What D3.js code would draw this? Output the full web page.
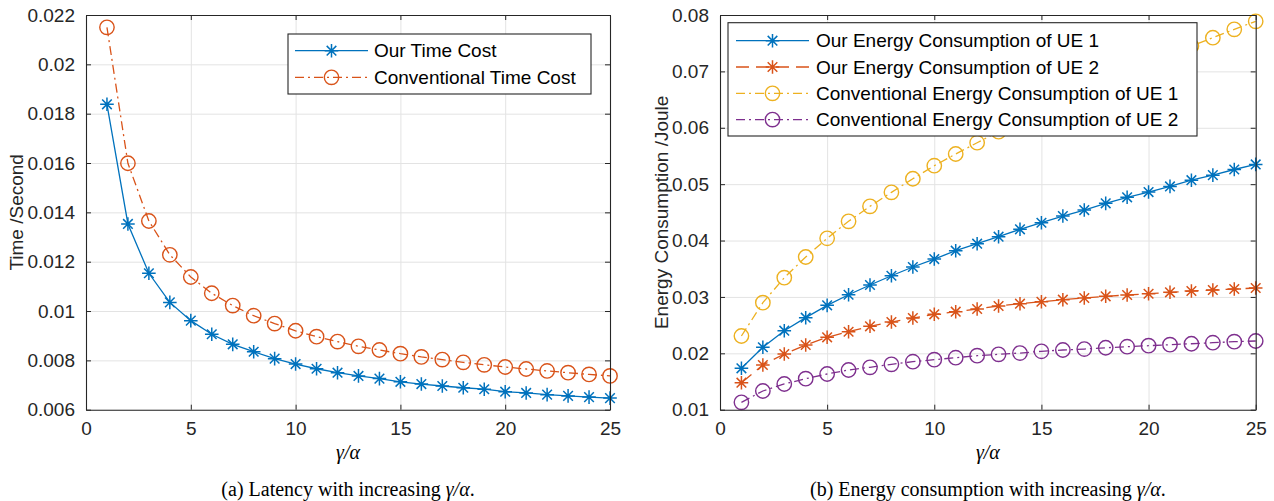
<!DOCTYPE html>
<html>
<head>
<meta charset="utf-8">
<script src="https://cdn.jsdelivr.net/npm/d3@7/dist/d3.min.js"></script>
<style>
  html, body { margin: 0; padding: 0; background: #fff; }
  svg { display: block; }
</style>
</head>
<body>
<svg id="chart" width="1274" height="501"></svg>
<script>
// ---------------- DATA ----------------
const ratio = d3.range(1, 26); // gamma/alpha = 1..25

const ourTimeCost = [0.01838, 0.01353, 0.01153, 0.01035, 0.00961, 0.00906, 0.00865, 0.00835, 0.00807, 0.00785,
  0.00766, 0.00750, 0.00737, 0.00726, 0.00713, 0.00704, 0.00696, 0.00689, 0.00683, 0.00673,
  0.00668, 0.00661, 0.00656, 0.00651, 0.00647];
const convTimeCost = [0.02150, 0.01599, 0.01365, 0.01228, 0.01138, 0.01072, 0.01022, 0.00981, 0.00949, 0.00920,
  0.00896, 0.00876, 0.00857, 0.00842, 0.00827, 0.00814, 0.00803, 0.00792, 0.00782, 0.00773,
  0.00765, 0.00757, 0.00750, 0.00743, 0.00737];

const ourEnergyUE1 = [0.01734, 0.02107, 0.02401, 0.02632, 0.02851, 0.03039, 0.03211, 0.03376, 0.03531, 0.03672,
  0.03820, 0.03944, 0.04068, 0.04199, 0.04316, 0.04435, 0.04541, 0.04660, 0.04767, 0.04860,
  0.04960, 0.05070, 0.05160, 0.05260, 0.05350];
const ourEnergyUE2 = [0.01479, 0.01793, 0.01988, 0.02147, 0.02284, 0.02383, 0.02479, 0.02555, 0.02626, 0.02692,
  0.02738, 0.02786, 0.02839, 0.02880, 0.02915, 0.02951, 0.02981, 0.03011, 0.03034, 0.03057,
  0.03082, 0.03105, 0.03123, 0.03140, 0.03158];
const convEnergyUE1 = [0.02307, 0.02898, 0.03341, 0.03708, 0.04040, 0.04341, 0.04607, 0.04855, 0.05096, 0.05327,
  0.05535, 0.05735, 0.05930, 0.06130, 0.06320, 0.06500, 0.06680, 0.06850, 0.07010, 0.07160,
  0.07310, 0.07450, 0.07597, 0.07746, 0.07888];
const convEnergyUE2 = [0.01131, 0.01332, 0.01456, 0.01550, 0.01633, 0.01704, 0.01752, 0.01805, 0.01851, 0.01887,
  0.01922, 0.01958, 0.01982, 0.02005, 0.02036, 0.02059, 0.02076, 0.02099, 0.02117, 0.02135,
  0.02153, 0.02170, 0.02188, 0.02206, 0.02218];

const xTicks = [0, 5, 10, 15, 20, 25];
const yTicksA = [0.006, 0.008, 0.010, 0.012, 0.014, 0.016, 0.018, 0.020, 0.022];
const yTickLabelsA = ["0.006", "0.008", "0.01", "0.012", "0.014", "0.016", "0.018", "0.02", "0.022"];
const yTicksB = [0.01, 0.02, 0.03, 0.04, 0.05, 0.06, 0.07, 0.08];
const yTickLabelsB = ["0.01", "0.02", "0.03", "0.04", "0.05", "0.06", "0.07", "0.08"];

const legendA = ["Our Time Cost", "Conventional Time Cost"];
const legendB = ["Our Energy Consumption of UE 1", "Our Energy Consumption of UE 2",
  "Conventional Energy Consumption of UE 1", "Conventional Energy Consumption of UE 2"];
const yLabelA = "Time /Second";
const yLabelB = "Energy Consumption /Joule";

// ---------------- STYLE ----------------
const C = { blue: "#0072BD", orange: "#D95319", yellow: "#EDB120", purple: "#7E2F8E" };
const SANS = "'Liberation Sans', Arial, Helvetica, sans-serif";
const SERIF = "'Liberation Serif', 'Times New Roman', serif";
const DASH = { solid: null, dashdot: "9,4,2,4", dashed: "13,7" };

const svg = d3.select("#chart");

function starPath(r) {
  const d = r * 0.7071;
  return `M${-r},0L${r},0M0,${-r}L0,${r}M${-d},${-d}L${d},${d}M${-d},${d}L${d},${-d}`;
}

function drawMarker(g, type, color) {
  if (type === "star") {
    g.append("path").attr("d", starPath(6.8)).attr("fill", "none")
      .attr("stroke", color).attr("stroke-width", 1.5);
  } else {
    g.append("circle").attr("r", 7.2).attr("fill", "none")
      .attr("stroke", color).attr("stroke-width", 1.4);
  }
}

function panel(cfg) {
  const x = d3.scaleLinear().domain([0, 25]).range([cfg.left, cfg.right]);
  const y = d3.scaleLinear().domain(cfg.yDomain).range([cfg.bottom, cfg.top]);
  const g = svg.append("g");
  const W = cfg.right - cfg.left, H = cfg.bottom - cfg.top;

  // grid
  g.append("g").attr("transform", `translate(0,${cfg.bottom})`)
    .call(d3.axisBottom(x).tickValues(xTicks).tickSize(-H).tickFormat(""))
    .call(s => s.select(".domain").remove())
    .call(s => s.selectAll("line").attr("stroke", "#e3e3e3").attr("stroke-width", 1));
  g.append("g").attr("transform", `translate(${cfg.left},0)`)
    .call(d3.axisLeft(y).tickValues(cfg.yTicks).tickSize(-W).tickFormat(""))
    .call(s => s.select(".domain").remove())
    .call(s => s.selectAll("line").attr("stroke", "#e3e3e3").attr("stroke-width", 1));

  // series
  cfg.series.forEach(s => {
    const pts = ratio.map((r, i) => [r, s.values[i]]);
    const line = d3.line().x(d => x(d[0])).y(d => y(d[1]));
    g.append("path").datum(pts).attr("d", line).attr("fill", "none")
      .attr("stroke", s.color).attr("stroke-width", 1.3)
      .attr("stroke-dasharray", DASH[s.dash]);
    g.selectAll(null).data(pts).enter().append("g")
      .attr("transform", d => `translate(${x(d[0])},${y(d[1])})`)
      .each(function () { drawMarker(d3.select(this), s.marker, s.color); });
  });

  // axes (ticks inward, box)
  const axCol = "#262626";
  const styleAx = s => {
    s.select(".domain").attr("stroke", axCol).attr("stroke-width", 1.1);
    s.selectAll(".tick line").attr("stroke", axCol).attr("stroke-width", 1);
    s.selectAll("text").attr("font-family", SANS).attr("font-size", 19).attr("fill", "#262626");
  };
  g.append("g").attr("transform", `translate(0,${cfg.bottom})`)
    .call(d3.axisBottom(x).tickValues(xTicks).tickSizeInner(-5).tickSizeOuter(0).tickPadding(12).tickFormat(d3.format("d")))
    .call(styleAx);
  g.append("g").attr("transform", `translate(0,${cfg.top})`)
    .call(d3.axisTop(x).tickValues(xTicks).tickSizeInner(-5).tickSizeOuter(0).tickFormat(""))
    .call(styleAx);
  g.append("g").attr("transform", `translate(${cfg.left},0)`)
    .call(d3.axisLeft(y).tickValues(cfg.yTicks).tickSizeInner(-5).tickSizeOuter(0).tickPadding(11)
      .tickFormat((d, i) => cfg.yLabels[i]))
    .call(styleAx);
  g.append("g").attr("transform", `translate(${cfg.right},0)`)
    .call(d3.axisRight(y).tickValues(cfg.yTicks).tickSizeInner(-5).tickSizeOuter(0).tickFormat(""))
    .call(styleAx);

  // y label
  g.append("text")
    .attr("transform", `translate(${cfg.yLabelX},${(cfg.top + cfg.bottom) / 2}) rotate(-90)`)
    .attr("text-anchor", "middle").attr("font-family", SANS).attr("font-size", 19)
    .attr("fill", "#262626").text(cfg.yLabel);

  // x label
  const cx = (cfg.left + cfg.right) / 2;
  g.append("text").attr("x", cx).attr("y", 459).attr("text-anchor", "middle")
    .attr("font-family", SERIF).attr("font-size", 20).attr("font-style", "italic")
    .attr("fill", "#000").text("γ/α");

  // caption
  const cap = g.append("text").attr("x", cx).attr("y", 496).attr("text-anchor", "middle")
    .attr("font-family", SERIF).attr("font-size", 20).attr("fill", "#000");
  cap.append("tspan").text(cfg.caption + " ");
  cap.append("tspan").attr("font-style", "italic").text("γ/α");
  cap.append("tspan").text(".");

  // legend
  const L = cfg.legend;
  const lg = g.append("g");
  lg.append("rect").attr("x", L.x0).attr("y", L.y0).attr("width", L.x1 - L.x0).attr("height", L.y1 - L.y0)
    .attr("fill", "#fff").attr("stroke", "#262626").attr("stroke-width", 1.1);
  cfg.series.forEach((s, i) => {
    const yy = L.rowY + i * L.rowH;
    lg.append("line").attr("x1", L.lx0).attr("x2", L.lx1).attr("y1", yy).attr("y2", yy)
      .attr("stroke", s.color).attr("stroke-width", 1.3).attr("stroke-dasharray", DASH[s.dash]);
    const m = lg.append("g").attr("transform", `translate(${(L.lx0 + L.lx1) / 2},${yy})`);
    drawMarker(m, s.marker, s.color);
    lg.append("text").attr("x", L.tx).attr("y", yy).attr("dy", "0.35em")
      .attr("font-family", SANS).attr("font-size", 19).attr("fill", "#000").text(s.name);
  });
}

panel({
  left: 86, right: 610, top: 15, bottom: 409.7,
  yDomain: [0.006, 0.022], yTicks: yTicksA, yLabels: yTickLabelsA,
  yLabel: yLabelA, yLabelX: 23, caption: "(a) Latency with increasing",
  series: [
    { name: legendA[0], values: ourTimeCost, color: C.blue, dash: "solid", marker: "star" },
    { name: legendA[1], values: convTimeCost, color: C.orange, dash: "dashdot", marker: "circle" }
  ],
  legend: { x0: 288, x1: 591, y0: 34, y1: 94, rowY: 50.7, rowH: 26.6, lx0: 295, lx1: 368, tx: 374 }
});

panel({
  left: 720, right: 1255.7, top: 15, bottom: 409.7,
  yDomain: [0.01, 0.08], yTicks: yTicksB, yLabels: yTickLabelsB,
  yLabel: yLabelB, yLabelX: 668, caption: "(b) Energy consumption with increasing",
  series: [
    { name: legendB[0], values: ourEnergyUE1, color: C.blue, dash: "solid", marker: "star" },
    { name: legendB[1], values: ourEnergyUE2, color: C.orange, dash: "dashed", marker: "star" },
    { name: legendB[2], values: convEnergyUE1, color: C.yellow, dash: "dashdot", marker: "circle" },
    { name: legendB[3], values: convEnergyUE2, color: C.purple, dash: "dashdot", marker: "circle" }
  ],
  legend: { x0: 728, x1: 1197, y0: 22.7, y1: 136, rowY: 40.7, rowH: 26.3, lx0: 736, lx1: 809, tx: 816 }
});
</script>
</body>
</html>
